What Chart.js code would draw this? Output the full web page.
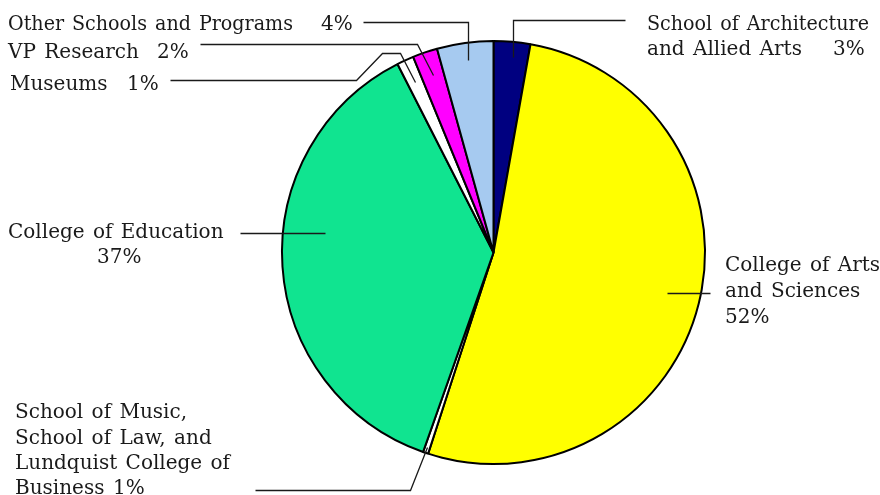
<!DOCTYPE html>
<html>
<head>
<meta charset="utf-8">
<script src="https://cdn.jsdelivr.net/npm/chart.js@4.4.1/dist/chart.umd.min.js"></script>
<style>
  html, body { margin: 0; padding: 0; background: #ffffff; }
  #wrap { width: 880px; height: 495px; }
</style>
</head>
<body>
<div id="wrap"><canvas id="budgetPie" width="880" height="495"></canvas></div>
<script>
  // slices, clockwise from 12 o'clock
  const categories = [
    'School of Architecture and Allied Arts',
    'College of Arts and Sciences',
    'School of Music, School of Law, and Lundquist College of Business',
    'College of Education',
    'Museums',
    'VP Research',
    'Other Schools and Programs'
  ];
  const shares = [2.8, 52.2, 0.4, 37.1, 1.3, 1.9, 4.3];
  const pctLabels = ['3%', '52%', '1%', '37%', '1%', '2%', '4%'];
  const sliceColors = ['#000080', '#ffff00', '#ffffff', '#10e490', '#ffffff', '#ff00ff', '#a6caf0'];

  // label layout: text lines [text, x, baseline, maxWidth], leader polyline
  const labelLayout = [
    { text: [['School of Architecture', 647, 30, 222], ['and Allied Arts', 647, 55], [pctLabels[0], 833, 55]],
      leader: [[625, 20], [513, 20], [513, 57]] },
    { text: [['College of Arts', 725, 271], ['and Sciences', 725, 297], [pctLabels[1], 725, 323]],
      leader: [[710, 293], [667, 293]] },
    { text: [['School of Music,', 15, 418], ['School of Law, and', 15, 444], ['Lundquist College of', 15, 469], ['Business', 15, 494], [pctLabels[2], 113, 494]],
      leader: [[255, 490], [410, 490], [427, 447]] },
    { text: [['College of Education', 8, 238], [pctLabels[3], 97, 263]],
      leader: [[240, 233], [325, 233]] },
    { text: [['Museums', 10, 90], [pctLabels[4], 127, 90]],
      leader: [[170, 80], [356, 80], [382, 53], [400, 53], [415, 82]] },
    { text: [['VP Research', 8, 58], [pctLabels[5], 157, 58]],
      leader: [[200, 44], [417, 44], [433, 75]] },
    { text: [['Other Schools and Programs', 8, 30, 285], [pctLabels[6], 321, 30]],
      leader: [[363, 22], [468, 22], [468, 60]] }
  ];

  const calloutPlugin = {
    id: 'callouts',
    afterDraw(chart) {
      const c = chart.ctx;
      c.save();
      c.translate(0.5, 0.5);
      c.strokeStyle = '#1a1a1a';
      c.lineWidth = 1.3;
      labelLayout.forEach(item => {
        c.beginPath();
        item.leader.forEach((p, i) => i ? c.lineTo(p[0], p[1]) : c.moveTo(p[0], p[1]));
        c.stroke();
      });
      c.translate(-0.5, -0.5);
      c.fillStyle = '#1a1a1a';
      c.font = '20px "DejaVu Serif"';
      if ('wordSpacing' in c) c.wordSpacing = '2px';
      c.textBaseline = 'alphabetic';
      c.textAlign = 'left';
      labelLayout.forEach(item => {
        item.text.forEach(t => {
          if (t[3]) c.fillText(t[0], t[1], t[2], t[3]);
          else c.fillText(t[0], t[1], t[2]);
        });
      });
      c.restore();
    }
  };

  new Chart(document.getElementById('budgetPie'), {
    type: 'pie',
    data: {
      labels: categories,
      datasets: [{
        data: shares,
        backgroundColor: sliceColors,
        borderColor: '#000000',
        borderWidth: 2
      }]
    },
    options: {
      responsive: false,
      animation: false,
      rotation: 0,
      layout: { padding: { left: 281, right: 174, top: 40, bottom: 30 } },
      plugins: {
        legend: { display: false },
        tooltip: { enabled: false }
      }
    },
    plugins: [calloutPlugin]
  });
</script>
</body>
</html>
